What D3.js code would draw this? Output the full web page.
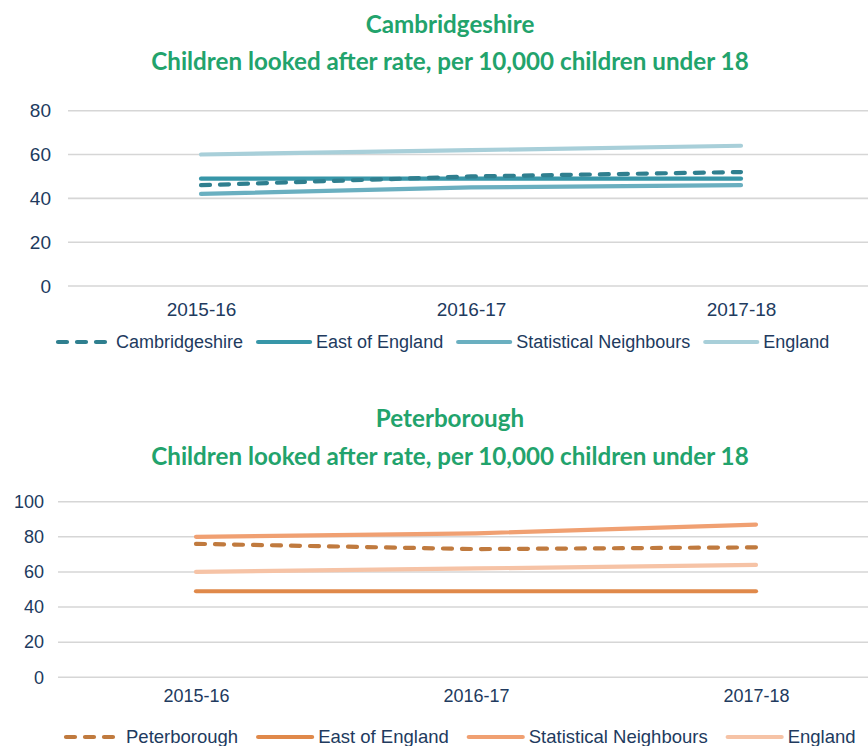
<!DOCTYPE html>
<html>
<head>
<meta charset="utf-8">
<script src="https://cdn.jsdelivr.net/npm/d3@7/dist/d3.min.js"></script>
<style>
  html, body { margin: 0; padding: 0; background: #ffffff; }
  svg { display: block; }
</style>
</head>
<body>
<svg id="chart" width="868" height="746"></svg>
<script>
// ---------- data ----------
const years = ["2015-16", "2016-17", "2017-18"];

const cambsSeriesNames = ["Cambridgeshire", "East of England", "Statistical Neighbours", "England"];
const cambsValues = [46, 50, 52];
const cambsEastValues = [49, 49, 49];
const cambsStatValues = [42, 45, 46];
const cambsEnglandValues = [60, 62, 64];
const cambsTicks = [0, 20, 40, 60, 80];

const peterSeriesNames = ["Peterborough", "East of England", "Statistical Neighbours", "England"];
const peterValues = [76, 73, 74];
const peterEastValues = [49, 49, 49];
const peterStatValues = [80, 82, 87];
const peterEnglandValues = [60, 62, 64];
const peterTicks = [0, 20, 40, 60, 80, 100];

const titleA = ["Cambridgeshire", "Children looked after rate, per 10,000 children under 18"];
const titleB = ["Peterborough", "Children looked after rate, per 10,000 children under 18"];

// ---------- styles ----------
const tealColors = ["#2f7f8f", "#3796a8", "#6aafc0", "#a8cfd9"];
const orangeColors = ["#c07a3e", "#e0894a", "#f0a072", "#f6c3a6"];
const textColor = "#213a5e";
const titleColor = "#22a36c";
const gridColor = "#d6d6d6";

const svg = d3.select("#chart");

function drawPanel(cfg) {
  const g = svg.append("g");

  // titles
  cfg.titles.forEach((t, i) => {
    g.append("text")
      .attr("x", 450)
      .attr("y", cfg.titleY[i])
      .attr("text-anchor", "middle")
      .attr("font-family", "Lato, 'Open Sans', sans-serif")
      .attr("font-weight", "bold")
      .attr("font-size", 24.2)
      .attr("fill", titleColor)
      .text(t);
  });

  const x = d3.scalePoint().domain(years).range(cfg.xRange).padding(0.5);
  const y = d3.scaleLinear().domain(cfg.yDomain).range(cfg.yRange);

  // gridlines
  g.append("g").selectAll("line").data(cfg.ticks).join("line")
    .attr("x1", cfg.gridX[0]).attr("x2", cfg.gridX[1])
    .attr("y1", d => y(d)).attr("y2", d => y(d))
    .attr("stroke", gridColor).attr("stroke-width", 1.6);

  // y axis labels
  const yAxis = d3.axisLeft(y).tickValues(cfg.ticks).tickSize(0).tickPadding(0);
  const ya = g.append("g").attr("transform", `translate(${cfg.yLabelX},0)`).call(yAxis);
  ya.select(".domain").remove();
  ya.selectAll("text")
    .attr("font-family", "'Liberation Sans', Arial, sans-serif")
    .attr("font-size", cfg.tickFont)
    .attr("fill", textColor);

  // x axis labels
  const xAxis = d3.axisBottom(x).tickSize(0).tickPadding(0);
  const xa = g.append("g").attr("transform", `translate(0,${cfg.xLabelY})`).call(xAxis);
  xa.select(".domain").remove();
  xa.selectAll("text")
    .attr("font-family", "'Liberation Sans', Arial, sans-serif")
    .attr("font-size", cfg.tickFont)
    .attr("fill", textColor);

  // series lines (draw lighter first, main dashed last)
  const line = d3.line().x((d, i) => x(years[i])).y(d => y(d));
  const order = [3, 2, 1, 0];
  order.forEach(k => {
    g.append("path")
      .datum(cfg.series[k])
      .attr("d", line)
      .attr("fill", "none")
      .attr("stroke", cfg.colors[k])
      .attr("stroke-width", 4.2)
      .attr("stroke-linecap", "round")
      .attr("stroke-linejoin", "round")
      .attr("stroke-dasharray", k === 0 ? "9,10" : null);
  });

  // legend (flow layout from measured text widths)
  const lg = g.append("g");
  let cx = cfg.legendStart;
  cfg.names.forEach((name, k) => {
    lg.append("line")
      .attr("x1", cx).attr("x2", cx + cfg.legendLine)
      .attr("y1", cfg.legendY).attr("y2", cfg.legendY)
      .attr("stroke", cfg.colors[k])
      .attr("stroke-width", 4.2)
      .attr("stroke-linecap", "round")
      .attr("stroke-dasharray", k === 0 ? "9,10" : null);
    const t = lg.append("text")
      .attr("x", cx + cfg.legendLine + cfg.legendGap)
      .attr("y", cfg.legendY)
      .attr("dy", "0.35em")
      .attr("font-family", "'Liberation Sans', Arial, sans-serif")
      .attr("font-size", cfg.legendFont)
      .attr("fill", textColor)
      .text(name);
    const w = t.node().getComputedTextLength();
    cx = cx + cfg.legendLine + cfg.legendGap + w + cfg.legendSpacing;
  });
}

drawPanel({
  titles: titleA,
  titleY: [33, 70],
  xRange: [66, 876],
  yDomain: [0, 80],
  yRange: [286, 110.7],
  ticks: cambsTicks,
  gridX: [68, 868],
  yLabelX: 51,
  xLabelY: 302,
  tickFont: 19,
  series: [cambsValues, cambsEastValues, cambsStatValues, cambsEnglandValues],
  colors: tealColors,
  names: cambsSeriesNames,
  legendStart: 58,
  legendLine: 52,
  legendGap: 6,
  legendSpacing: 15,
  legendFont: 18,
  legendY: 342
});

drawPanel({
  titles: titleB,
  titleY: [427, 465],
  xRange: [56, 896],
  yDomain: [0, 100],
  yRange: [677.3, 501.7],
  ticks: peterTicks,
  gridX: [58, 868],
  yLabelX: 44,
  xLabelY: 689,
  tickFont: 18,
  series: [peterValues, peterEastValues, peterStatValues, peterEnglandValues],
  colors: orangeColors,
  names: peterSeriesNames,
  legendStart: 66,
  legendLine: 54,
  legendGap: 6,
  legendSpacing: 20,
  legendFont: 18.5,
  legendY: 737
});
</script>
</body>
</html>
